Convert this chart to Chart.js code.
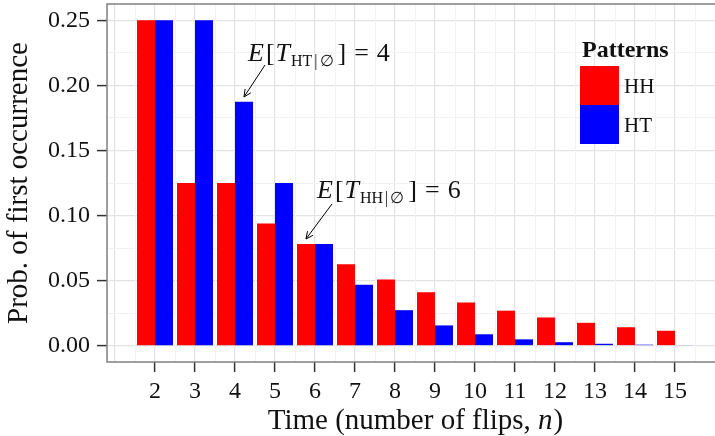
<!DOCTYPE html>
<html>
<head>
<meta charset="utf-8">
<script src="https://cdn.jsdelivr.net/npm/chart.js@4.4.1/dist/chart.umd.min.js"></script>
<style>
  html, body { margin: 0; padding: 0; background: #fff; overflow: hidden; }
</style>
</head>
<body>
<canvas id="chart" width="715" height="436"></canvas>
<script>
// time n at which the pattern first shows up
const flips = [2, 3, 4, 5, 6, 7, 8, 9, 10, 11, 12, 13, 14, 15];
const probHH = [0.25, 0.125, 0.125, 0.0938, 0.0781, 0.0625, 0.0508, 0.041, 0.0332, 0.0269, 0.0217, 0.0176, 0.0142, 0.0115];
const probHT = [0.25, 0.25, 0.1875, 0.125, 0.0781, 0.0469, 0.0273, 0.0156, 0.0088, 0.0049, 0.0027, 0.0015, 0.0008, 0.0004];
const patterns = ['HH', 'HT'];
const patternColors = ['#ff0000', '#0000ff'];
const yTickLabels = ['0.00', '0.05', '0.10', '0.15', '0.20', '0.25'];
const expected = {HT: 4, HH: 6};

const SERIF = '"Liberation Serif", "DejaVu Serif", serif';
const MAJOR = '#e4e4e4';
const MINOR = '#f2f2f2';
const INK = '#111';

const xGrid = [];
for (let n = 1; n <= 15; n++) xGrid.push(n);
const yGrid = [];
for (let i = 0; i <= 10; i++) yGrid.push(i * 0.025);

function yLabelIndex(v) {
  const k = Math.round(v / 0.05);
  return Math.abs(v / 0.05 - k) < 1e-6 ? k : -1;
}

// annotation anchors, in data units
const notes = [
  {pattern: 'HT', at: [4.325, 0.2187], from: [4.75, 0.2156], to: [4.225, 0.1911]},
  {pattern: 'HH', at: [6.05, 0.1135], from: [6.425, 0.1089], to: [5.775, 0.082]}
];

function drawExpectation(ctx, x, y, pattern, value) {
  const big = '26px ' + SERIF, bigIt = 'italic 26px ' + SERIF, small = '16px ' + SERIF;
  const parts = [
    {t: 'E', f: bigIt, gap: 2},
    {t: '[', f: big, gap: 1},
    {t: 'T', f: bigIt, gap: 1},
    {t: pattern, f: small, dy: 5, gap: 2},
    {t: '|', f: small, dy: 5, gap: 2},
    {t: '\u2205', f: small, dy: 5, gap: 4},
    {t: ']', f: big, gap: 8},
    {t: '=', f: big, gap: 8},
    {t: String(value), f: big, gap: 0}
  ];
  let cx = x;
  parts.forEach(p => {
    ctx.font = p.f;
    ctx.fillText(p.t, cx, y + (p.dy || 0));
    cx += ctx.measureText(p.t).width + p.gap;
  });
}

function arrow(ctx, x0, y0, x1, y1) {
  const a = Math.atan2(y1 - y0, x1 - x0), len = 8, spread = Math.PI / 7;
  ctx.beginPath();
  ctx.moveTo(x0, y0);
  ctx.lineTo(x1, y1);
  ctx.moveTo(x1 - len * Math.cos(a - spread), y1 - len * Math.sin(a - spread));
  ctx.lineTo(x1, y1);
  ctx.lineTo(x1 - len * Math.cos(a + spread), y1 - len * Math.sin(a + spread));
  ctx.stroke();
}

const panelDecor = {
  id: 'panelDecor',
  beforeDatasetsDraw(chart) {
    const {ctx, chartArea: a, scales: {x}} = chart;
    ctx.save();
    ctx.strokeStyle = MINOR;
    ctx.lineWidth = 1;
    xGrid.forEach(n => {
      const px = Math.round(x.getPixelForValue(n + 0.5)) + 0.5;
      if (px < a.right) {
        ctx.beginPath();
        ctx.moveTo(px, a.top);
        ctx.lineTo(px, a.bottom);
        ctx.stroke();
      }
    });
    ctx.restore();
  },
  afterDraw(chart) {
    const {ctx, chartArea: a, scales: {x, y}} = chart;
    ctx.save();
    // panel border
    ctx.strokeStyle = '#808080';
    ctx.lineWidth = 1.5;
    ctx.strokeRect(a.left, a.top, a.right - a.left + 2, a.bottom - a.top);

    // x axis title with italic n
    ctx.fillStyle = INK;
    ctx.textBaseline = 'alphabetic';
    const f = '29px ' + SERIF, fi = 'italic 29px ' + SERIF;
    const t1 = 'Time (number of flips, ', t2 = 'n', t3 = ')';
    ctx.font = f; const w1 = ctx.measureText(t1).width, w3 = ctx.measureText(t3).width;
    ctx.font = fi; const w2 = ctx.measureText(t2).width;
    let tx = (a.left + a.right) / 2 + 4 - (w1 + w2 + w3) / 2;
    ctx.font = f; ctx.fillText(t1, tx, 429);
    ctx.font = fi; ctx.fillText(t2, tx + w1, 429);
    ctx.font = f; ctx.fillText(t3, tx + w1 + w2 + 1, 429);

    // annotations
    ctx.strokeStyle = '#000';
    ctx.lineWidth = 1;
    notes.forEach(nt => {
      drawExpectation(ctx, x.getPixelForValue(nt.at[0]), y.getPixelForValue(nt.at[1]), nt.pattern, expected[nt.pattern]);
      arrow(ctx, x.getPixelForValue(nt.from[0]), y.getPixelForValue(nt.from[1]),
            x.getPixelForValue(nt.to[0]), y.getPixelForValue(nt.to[1]));
    });

    // legend
    const lx = a.right - 135, ly = a.top + 62, key = 39;
    ctx.font = 'bold 24px ' + SERIF;
    ctx.fillText('Patterns', lx + 2, a.top + 53);
    patterns.forEach((p, i) => {
      ctx.fillStyle = patternColors[i];
      ctx.fillRect(lx, ly + i * key, key, key);
      ctx.fillStyle = INK;
      ctx.font = '21px ' + SERIF;
      ctx.textBaseline = 'middle';
      ctx.fillText(p, lx + key + 5, ly + i * key + key / 2 + 2);
      ctx.textBaseline = 'alphabetic';
    });
    ctx.restore();
  }
};

new Chart(document.getElementById('chart'), {
  type: 'bar',
  data: {
    datasets: patterns.map((p, k) => ({
      label: p,
      data: flips.map((n, i) => ({x: n, y: (k === 0 ? probHH : probHT)[i]})),
      backgroundColor: patternColors[k],
      borderWidth: 0,
      categoryPercentage: 0.9,
      barPercentage: 1.0
    }))
  },
  options: {
    responsive: false,
    animation: false,
    layout: {padding: {top: 4, right: 0, bottom: 0, left: 0}},
    plugins: {
      legend: {display: false},
      tooltip: {enabled: false}
    },
    scales: {
      x: {
        type: 'linear',
        min: 0.8,
        max: 16,
        offset: false,
        afterBuildTicks: axis => { axis.ticks = xGrid.map(v => ({value: v})); },
        afterFit: axis => { axis.height = 74; axis.paddingLeft = 0; axis.paddingRight = 0; },
        border: {display: false},
        grid: {
          offset: false,
          color: MAJOR,
          lineWidth: 1.2,
          tickLength: 10,
          tickWidth: 1.5,
          tickColor: c => (c.tick && flips.includes(c.tick.value)) ? '#333' : 'rgba(0,0,0,0)'
        },
        ticks: {
          autoSkip: false,
          maxRotation: 0,
          padding: 5,
          color: INK,
          font: {family: SERIF, size: 24},
          callback: v => flips.includes(v) ? String(v) : ''
        }
      },
      y: {
        min: -0.0125,
        max: 0.2625,
        afterBuildTicks: axis => { axis.ticks = yGrid.map(v => ({value: v})); },
        afterFit: axis => { axis.width = 107; axis.paddingTop = 0; axis.paddingBottom = 0; },
        border: {display: false},
        grid: {
          color: c => (c.tick && yLabelIndex(c.tick.value) >= 0) ? MAJOR : MINOR,
          lineWidth: c => (c.tick && yLabelIndex(c.tick.value) >= 0) ? 1.2 : 1,
          tickLength: 10,
          tickWidth: 1.5,
          tickColor: c => (c.tick && yLabelIndex(c.tick.value) >= 0) ? '#333' : 'rgba(0,0,0,0)'
        },
        ticks: {
          padding: 7,
          color: INK,
          font: {family: SERIF, size: 24},
          callback: v => { const k = yLabelIndex(v); return k >= 0 ? yTickLabels[k] : ''; }
        },
        title: {
          display: true,
          text: 'Prob. of first occurrence',
          color: INK,
          font: {family: SERIF, size: 29},
          padding: {top: 2, bottom: 0}
        }
      }
    }
  },
  plugins: [panelDecor]
});
</script>
</body>
</html>
